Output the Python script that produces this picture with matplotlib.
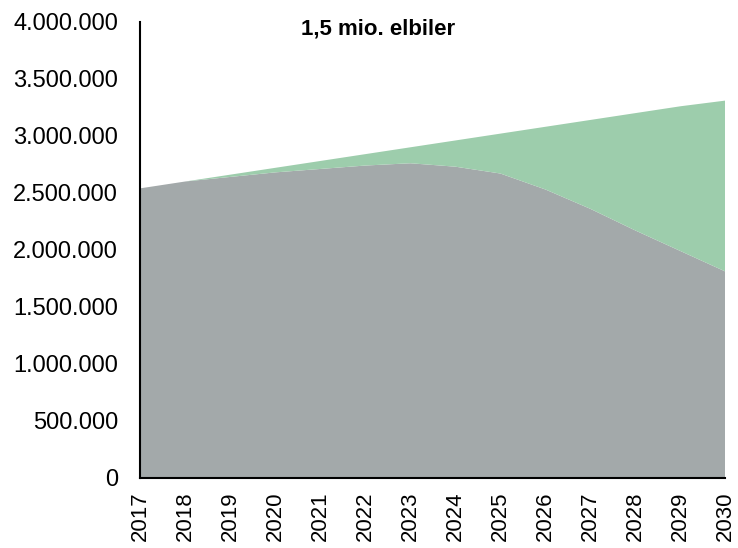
import matplotlib

matplotlib.use("Agg")
import matplotlib.pyplot as plt
from matplotlib.ticker import FuncFormatter

plt.rcParams["font.family"] = ["Liberation Sans", "DejaVu Sans"]

# Bilpark 2017-2030: fossilbiler (grå) og elbiler oven på (grøn)
years = [2017, 2018, 2019, 2020, 2021, 2022, 2023,
         2024, 2025, 2026, 2027, 2028, 2029, 2030]
total = [2.54e6, 2.60e6, 2.66e6, 2.72e6, 2.78e6, 2.84e6, 2.90e6,
         2.96e6, 3.02e6, 3.08e6, 3.14e6, 3.20e6, 3.26e6, 3.31e6]
fossil = [2.54e6, 2.60e6, 2.64e6, 2.68e6, 2.71e6, 2.74e6, 2.76e6,
          2.73e6, 2.67e6, 2.53e6, 2.36e6, 2.17e6, 1.99e6, 1.81e6]
electric = [t - f for t, f in zip(total, fossil)]
y_ticks = [0, 500_000, 1_000_000, 1_500_000, 2_000_000,
           2_500_000, 3_000_000, 3_500_000, 4_000_000]
title = "1,5 mio. elbiler"

fig = plt.figure(figsize=(7.38, 5.48), dpi=100)
ax = fig.add_axes([0.19, 0.128, 0.793, 0.832])

ax.stackplot(years, fossil, electric,
             colors=["#a3a9aa", "#9dcdac"], linewidth=0)

ax.set_xlim(2017, 2030)
ax.set_ylim(0, 4_000_000)
ax.set_yticks(y_ticks)
ax.yaxis.set_major_formatter(
    FuncFormatter(lambda v, _: f"{int(v):,}".replace(",", "."))
)
ax.set_xticks(years)
ax.set_xticklabels([str(y) for y in years], rotation=90)
ax.tick_params(axis="y", length=0, pad=16, labelsize=17)
ax.tick_params(axis="x", length=0, pad=10, labelsize=16)

for side in ("top", "right"):
    ax.spines[side].set_visible(False)
ax.spines["left"].set_linewidth(1.5)
ax.spines["bottom"].set_linewidth(1.5)

ax.text(0.406, 0.985, title, transform=ax.transAxes,
        ha="center", va="center", fontsize=16, fontweight="bold")

fig.savefig("out.png", dpi=100)
plt.close(fig)
